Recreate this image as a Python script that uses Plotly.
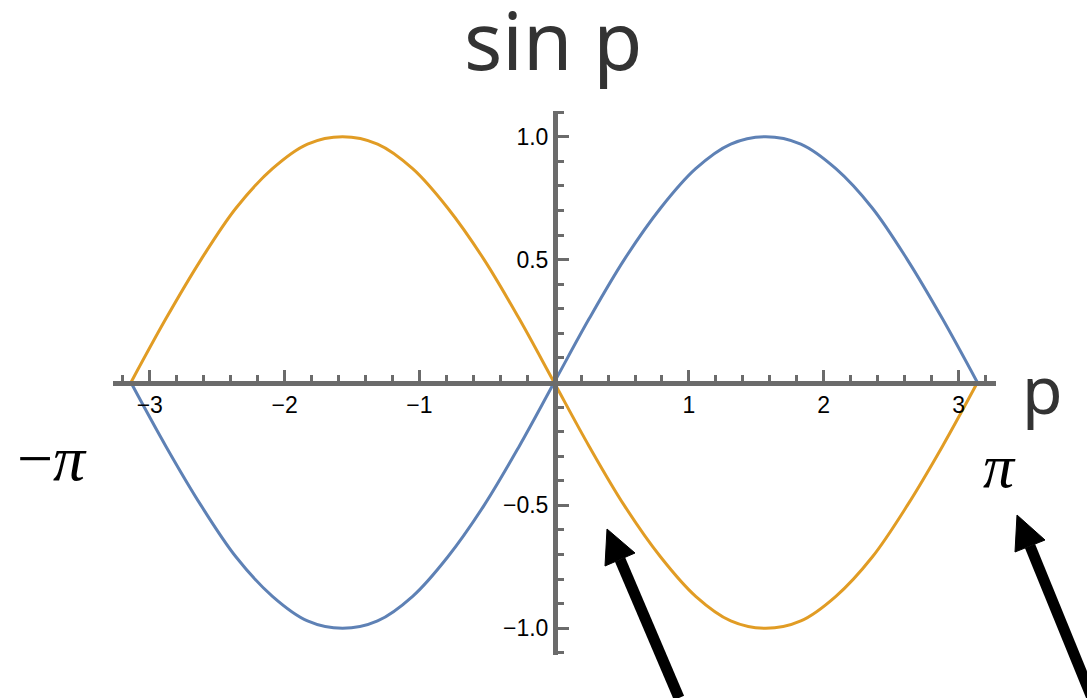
import plotly.graph_objects as go

# ---- data ----
p_values = [-3.14, -2.88, -2.62, -2.36, -2.09, -1.83, -1.57, -1.31, -1.05, -0.79, -0.52, -0.26,
            0.0, 0.26, 0.52, 0.79, 1.05, 1.31, 1.57, 1.83, 2.09, 2.36, 2.62, 2.88, 3.14]
blue_values = [0.0, -0.26, -0.5, -0.71, -0.87, -0.97, -1.0, -0.97, -0.87, -0.71, -0.5, -0.26,
               0.0, 0.26, 0.5, 0.71, 0.87, 0.97, 1.0, 0.97, 0.87, 0.71, 0.5, 0.26, 0.0]
orange_values = [0.0, 0.26, 0.5, 0.71, 0.87, 0.97, 1.0, 0.97, 0.87, 0.71, 0.5, 0.26,
                 0.0, -0.26, -0.5, -0.71, -0.87, -0.97, -1.0, -0.97, -0.87, -0.71, -0.5, -0.26, 0.0]
x_tick_vals = [-3, -2, -1, 1, 2, 3]
x_tick_text = ["\u22123", "\u22122", "\u22121", "1", "2", "3"]
y_tick_vals = [-1.0, -0.5, 0.5, 1.0]
y_tick_text = ["\u22121.0", "\u22120.5", "0.5", "1.0"]

W, H = 1087, 698


def px(x):
    return x / W


def py(y):
    return 1 - y / H


fig = go.Figure()
fig.add_trace(go.Scatter(x=p_values, y=orange_values, mode="lines", line_shape="spline",
                         line=dict(color="#E19C24", width=3), showlegend=False))
fig.add_trace(go.Scatter(x=p_values, y=blue_values, mode="lines", line_shape="spline",
                         line=dict(color="#5E81B5", width=3), showlegend=False))

axis_color = "#6b6b6b"
tick_font = dict(family="Liberation Sans, Arial", size=23, color="black")
fig.update_layout(
    width=W, height=H,
    margin=dict(l=0, r=0, t=0, b=0),
    paper_bgcolor="white", plot_bgcolor="white",
    xaxis=dict(
        domain=[px(113), px(996)], range=[-3.273, 3.278],
        anchor="free", position=py(382.5),
        showline=True, linecolor=axis_color, linewidth=5,
        showgrid=False, zeroline=False,
        tickmode="array", tickvals=x_tick_vals, ticktext=x_tick_text,
        ticks="inside", ticklen=11, tickwidth=3, tickcolor=axis_color,
        tickfont=tick_font,
        minor=dict(ticks="inside", dtick=0.2, tick0=0, ticklen=6, tickwidth=3, tickcolor=axis_color),
        fixedrange=True,
    ),
    yaxis=dict(
        domain=[py(655), py(111)], range=[-1.1086, 1.1045],
        anchor="free", position=px(555),
        showline=True, linecolor=axis_color, linewidth=5,
        showgrid=False, zeroline=False,
        tickmode="array", tickvals=y_tick_vals, ticktext=y_tick_text,
        ticks="inside", ticklen=11, tickwidth=3, tickcolor=axis_color,
        tickfont=tick_font,
        minor=dict(ticks="inside", dtick=0.1, tick0=0, ticklen=6, tickwidth=3, tickcolor=axis_color),
        fixedrange=True,
    ),
)

# text labels
fig.add_annotation(text="sin p", xref="paper", yref="paper", x=px(553), y=py(38),
                   showarrow=False, font=dict(family="Noto Sans", size=80, color="#333333"),
                   xanchor="center", yanchor="middle")
fig.add_annotation(text="p", xref="paper", yref="paper", x=px(1042), y=py(388),
                   showarrow=False, font=dict(family="Noto Sans", size=66, color="#333333"),
                   xanchor="center", yanchor="middle")
fig.add_annotation(text="\u2212<i>\u03c0</i>", xref="paper", yref="paper", x=px(52), y=py(458),
                   showarrow=False, font=dict(family="Liberation Serif", size=64, color="black"),
                   xanchor="center", yanchor="middle")
fig.add_annotation(text="<i>\u03c0</i>", xref="paper", yref="paper", x=px(999), y=py(466),
                   showarrow=False, font=dict(family="Liberation Serif", size=62, color="black"),
                   xanchor="center", yanchor="middle")


# arrows drawn as shapes (decoration)
def arrow(tail, tip, c1, c2):
    base = ((c1[0] + c2[0]) / 2, (c1[1] + c2[1]) / 2)
    fig.add_shape(type="line", xref="paper", yref="paper",
                  x0=px(tail[0]), y0=py(tail[1]), x1=px(base[0]), y1=py(base[1]),
                  line=dict(color="black", width=11))
    path = "M {} {} L {} {} L {} {} Z".format(px(tip[0]), py(tip[1]), px(c1[0]), py(c1[1]),
                                               px(c2[0]), py(c2[1]))
    fig.add_shape(type="path", xref="paper", yref="paper", path=path,
                  fillcolor="black", line=dict(color="black", width=1))


arrow((679, 698), (607, 529), (605, 566), (635, 553))
arrow((1092, 698), (1017, 515), (1015, 552), (1045, 540))

fig.write_html("out.html", config={"displayModeBar": False},
               post_script="document.body.style.margin='0px';")
